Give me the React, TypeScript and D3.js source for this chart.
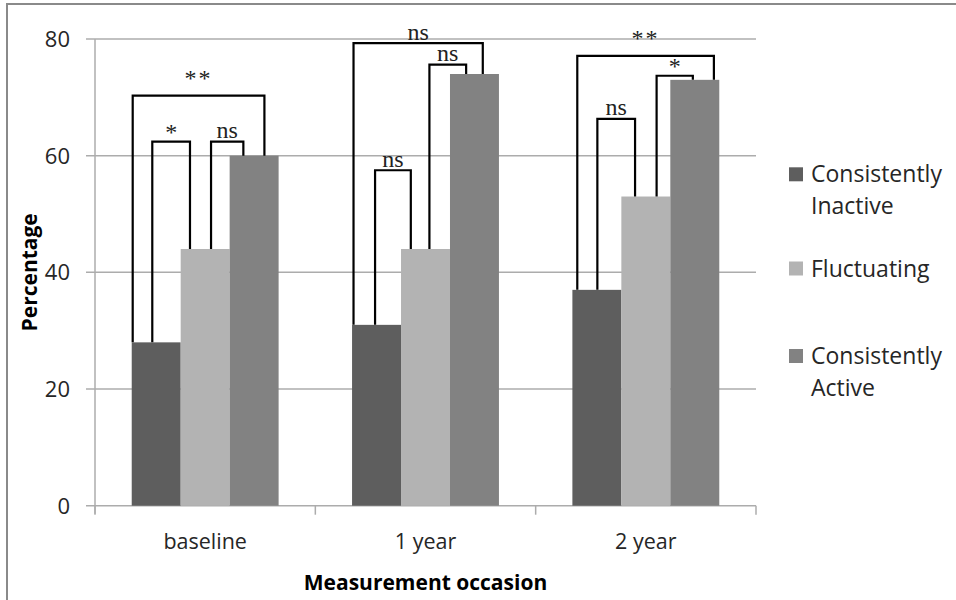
import React from 'react';
import * as d3 from 'd3';

// measurement occasions on the x axis
const categories = ['baseline', '1 year', '2 year'];
const seriesNames = ['Consistently Inactive', 'Fluctuating', 'Consistently Active'];
const legendLines = [['Consistently', 'Inactive'], ['Fluctuating'], ['Consistently', 'Active']];
const seriesColors = ['#5e5e5e', '#b3b3b3', '#828282'];

// percentage per occasion, one array per group
const inactiveVals = [28, 31, 37];
const fluctuatingVals = [44, 44, 53];
const activeVals = [60, 74, 73];

const yTicks = [0, 20, 40, 60, 80];

// significance brackets: from / to = series index, fromAt / toAt = spot inside the bar
const brackets = [
  { cat: 'baseline', from: 0, fromAt: 0.02, to: 2, toAt: 0.71, level: 70.3, label: '**' },
  { cat: 'baseline', from: 0, fromAt: 0.42, to: 1, toAt: 0.19, level: 62.4, label: '*' },
  { cat: 'baseline', from: 1, fromAt: 0.62, to: 2, toAt: 0.28, level: 62.4, label: 'ns' },
  { cat: '1 year', from: 0, fromAt: 0.03, to: 2, toAt: 0.67, level: 79.3, label: 'ns' },
  { cat: '1 year', from: 0, fromAt: 0.47, to: 1, toAt: 0.2, level: 57.5, label: 'ns' },
  { cat: '1 year', from: 1, fromAt: 0.58, to: 2, toAt: 0.33, level: 75.6, label: 'ns' },
  { cat: '2 year', from: 0, fromAt: 0.1, to: 2, toAt: 0.89, level: 77.1, label: '**' },
  { cat: '2 year', from: 0, fromAt: 0.51, to: 1, toAt: 0.28, level: 66.3, label: 'ns' },
  { cat: '2 year', from: 1, fromAt: 0.72, to: 2, toAt: 0.46, level: 73.7, label: '*' },
];

const sans = '"Open Sans", sans-serif';
const serif = '"Liberation Serif", serif';

export default function App() {
  const left = 95;
  const right = 756;
  const top = 39;
  const bottom = 505.7;

  const values = [inactiveVals, fluctuatingVals, activeVals];

  const x0 = d3.scaleBand().domain(categories).range([left, right]).padding(0);
  const x1 = d3.scaleBand()
    .domain(seriesNames)
    .range([0, x0.bandwidth()])
    .paddingInner(0)
    .paddingOuter(0.75);
  const y = d3.scaleLinear().domain([0, 80]).range([bottom, top]);

  const barX = (cat, s) => x0(cat) + x1(seriesNames[s]);
  const catIdx = (cat) => categories.indexOf(cat);

  return (
    <svg width={956} height={600} style={{ position: 'absolute', left: 0, top: 0, background: '#fff' }}>
      <rect x={7} y={4} width={970} height={620} fill="#fff" stroke="#8a8a8a" strokeWidth={2} />

      {/* grid lines + y ticks */}
      {yTicks.map((t) => (
        <g key={t}>
          <line x1={86} x2={right} y1={y(t)} y2={y(t)} stroke="#acacac" strokeWidth={1.5} />
          <text x={70} y={y(t)} dy="0.36em" textAnchor="end" fontFamily={sans} fontSize={22} fill="#262626">
            {t}
          </text>
        </g>
      ))}
      <line x1={left} x2={left} y1={top} y2={bottom + 8} stroke="#acacac" strokeWidth={1.5} />
      {[...categories.map((c) => x0(c)), right].map((tx, i) => (
        <line key={i} x1={tx} x2={tx} y1={bottom} y2={bottom + 9} stroke="#acacac" strokeWidth={1.5} />
      ))}

      {/* bars */}
      {categories.map((c, ci) => (
        <g key={c}>
          {values.map((vals, s) => (
            <rect
              key={s}
              x={barX(c, s)}
              y={y(vals[ci])}
              width={x1.bandwidth()}
              height={bottom - y(vals[ci])}
              fill={seriesColors[s]}
            />
          ))}
          <text
            x={x0(c) + x0.bandwidth() / 2}
            y={548.5}
            textAnchor="middle"
            fontFamily={sans}
            fontSize={21.5}
            fill="#262626"
          >
            {c}
          </text>
        </g>
      ))}

      {/* brackets */}
      {brackets.map((b, i) => {
        const ci = catIdx(b.cat);
        const xa = barX(b.cat, b.from) + b.fromAt * x1.bandwidth();
        const xb = barX(b.cat, b.to) + b.toAt * x1.bandwidth();
        const ya = y(values[b.from][ci]);
        const yb = y(values[b.to][ci]);
        const yl = y(b.level);
        const isStars = b.label.indexOf('*') === 0;
        return (
          <g key={i}>
            <path
              d={`M${xa},${ya}V${yl}H${xb}V${yb}`}
              fill="none"
              stroke="#000"
              strokeWidth={2.2}
              strokeLinejoin="miter"
            />
            <text
              x={(xa + xb) / 2}
              y={yl - (b.label === '**' ? 10 : isStars ? 2 : 3.5)}
              textAnchor="middle"
              fontFamily={serif}
              fontSize={24}
              letterSpacing={b.label === '**' ? 2 : 0}
              fill="#222"
            >
              {b.label}
            </text>
          </g>
        );
      })}

      {/* axis titles */}
      <text
        transform={`translate(37,${(top + bottom) / 2}) rotate(-90)`}
        textAnchor="middle"
        fontFamily={sans}
        fontWeight="bold"
        fontSize={21}
        fill="#000"
      >
        Percentage
      </text>
      <text x={(left + right) / 2} y={590} textAnchor="middle" fontFamily={sans} fontWeight="bold" fontSize={21} fill="#000">
        Measurement occasion
      </text>

      {/* legend */}
      {legendLines.map((lines, s) => {
        const base = [182.3, 276.5, 364][s];
        return (
          <g key={s}>
            <rect x={789} y={base - 15} width={14} height={14} fill={seriesColors[s]} />
            {lines.map((ln, k) => (
              <text key={k} x={811} y={base + k * 31.7} fontFamily={sans} fontSize={23} fill="#262626">
                {ln}
              </text>
            ))}
          </g>
        );
      })}
    </svg>
  );
}
